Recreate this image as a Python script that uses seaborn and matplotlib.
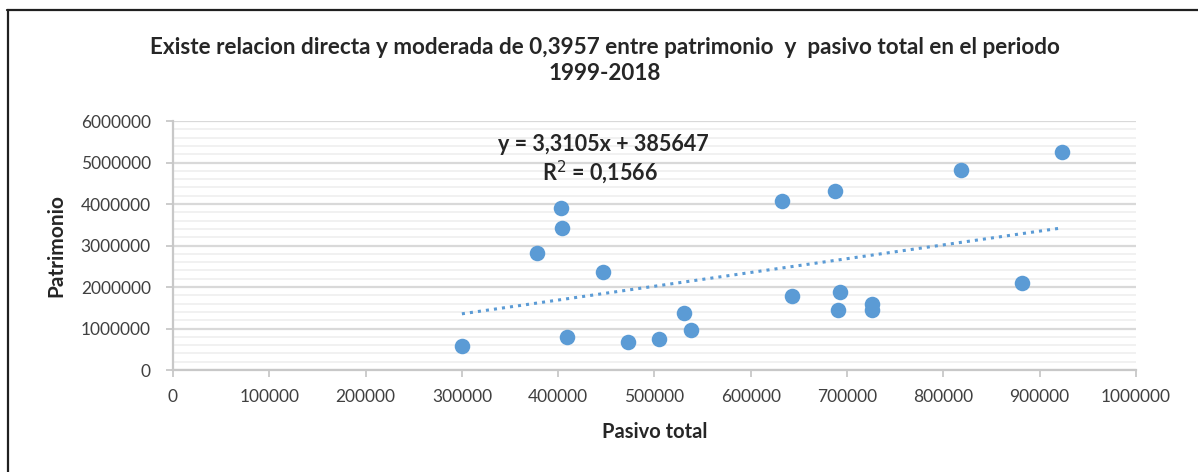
import matplotlib
matplotlib.use("Agg")
import matplotlib.pyplot as plt
import numpy as np
import pandas as pd
import seaborn as sns
from matplotlib.lines import Line2D
from matplotlib.ticker import MultipleLocator

# valores (1999-2018)
pasivo_total = [300000, 378500, 403000, 403800, 409000, 446500, 472700, 505000,
                531000, 537600, 632600, 643000, 687000, 690400, 692800, 726000,
                726000, 818700, 881200, 923200]
patrimonio = [580000, 2824000, 3896000, 3432000, 800000, 2360000, 680000, 736000,
              1384000, 976000, 4080000, 1784000, 4320000, 1448000, 1872000, 1584000,
              1456000, 4816000, 2088000, 5256000]

titulo = "Existe relacion directa y moderada de 0,3957 entre patrimonio  y  pasivo total en el periodo\n1999-2018"
ecuacion = "y = 3,3105x + 385647"
r2 = "R$^2$ = 0,1566"

df = pd.DataFrame({"Pasivo total": pasivo_total, "Patrimonio": patrimonio})

sns.set_style("white")
plt.rcParams["font.family"] = ["Lato", "DejaVu Sans"]

azul = "#5B9BD5"
fig = plt.figure(figsize=(11.98, 4.72), dpi=100)
ax = fig.add_axes([0.1444, 0.2161, 0.8038, 0.5275])

sns.regplot(data=df, x="Pasivo total", y="Patrimonio", ax=ax, scatter=False, ci=None,
            truncate=True, color=azul, line_kws={"linestyle": ":", "linewidth": 2.2})
sns.scatterplot(data=df, x="Pasivo total", y="Patrimonio", ax=ax, color=azul,
                s=125, edgecolor=azul, linewidth=0, zorder=3)

ax.set_xlim(0, 1000000)
ax.set_ylim(0, 6000000)
ax.xaxis.set_major_locator(MultipleLocator(100000))
ax.yaxis.set_major_locator(MultipleLocator(1000000))
ax.yaxis.set_minor_locator(MultipleLocator(200000))
ax.xaxis.set_major_formatter(matplotlib.ticker.FuncFormatter(lambda v, p: f"{int(v)}"))
ax.yaxis.set_major_formatter(matplotlib.ticker.FuncFormatter(lambda v, p: f"{int(v)}"))

ax.grid(axis="y", which="major", color="#D9D9D9", linewidth=1.6)
ax.grid(axis="y", which="minor", color="#F0F0F0", linewidth=1.3)
ax.set_axisbelow(True)

for s in ["top", "right"]:
    ax.spines[s].set_visible(False)
for s in ["left", "bottom"]:
    ax.spines[s].set_color("#C8C8C8")
    ax.spines[s].set_linewidth(1.6)

ax.tick_params(axis="both", which="major", direction="out", length=5, width=1.3,
               color="#C8C8C8", labelsize=12.5, labelcolor="#404040",
               bottom=True, left=True)
ax.tick_params(axis="y", which="major", pad=11)
ax.tick_params(axis="x", which="major", pad=9)
ax.tick_params(axis="y", which="minor", length=0)

ax.set_xlabel("Pasivo total", fontsize=14.5, fontweight="bold", labelpad=12)
ax.set_ylabel("Patrimonio", fontsize=15, fontweight="bold", labelpad=10)

ax.text(0.447, 0.905, ecuacion, transform=ax.transAxes, ha="center", va="center",
        fontsize=15.5, fontweight="bold")
ax.text(0.443, 0.795, r2, transform=ax.transAxes, ha="center", va="center",
        fontsize=15.5, fontweight="bold")

fig.text(0.505, 0.872, titulo, ha="center", va="center", fontsize=16.2,
         fontweight="bold", linespacing=1.25)

# marco del grafico
fig.add_artist(Line2D([7 / 1198, 1], [1 - 9.5 / 472, 1 - 9.5 / 472],
                      transform=fig.transFigure, color="#202020", linewidth=1.6))
fig.add_artist(Line2D([7.5 / 1198, 7.5 / 1198], [0, 1 - 9.5 / 472],
                      transform=fig.transFigure, color="#202020", linewidth=1.6))

fig.savefig("out.png", dpi=100)
plt.close(fig)
